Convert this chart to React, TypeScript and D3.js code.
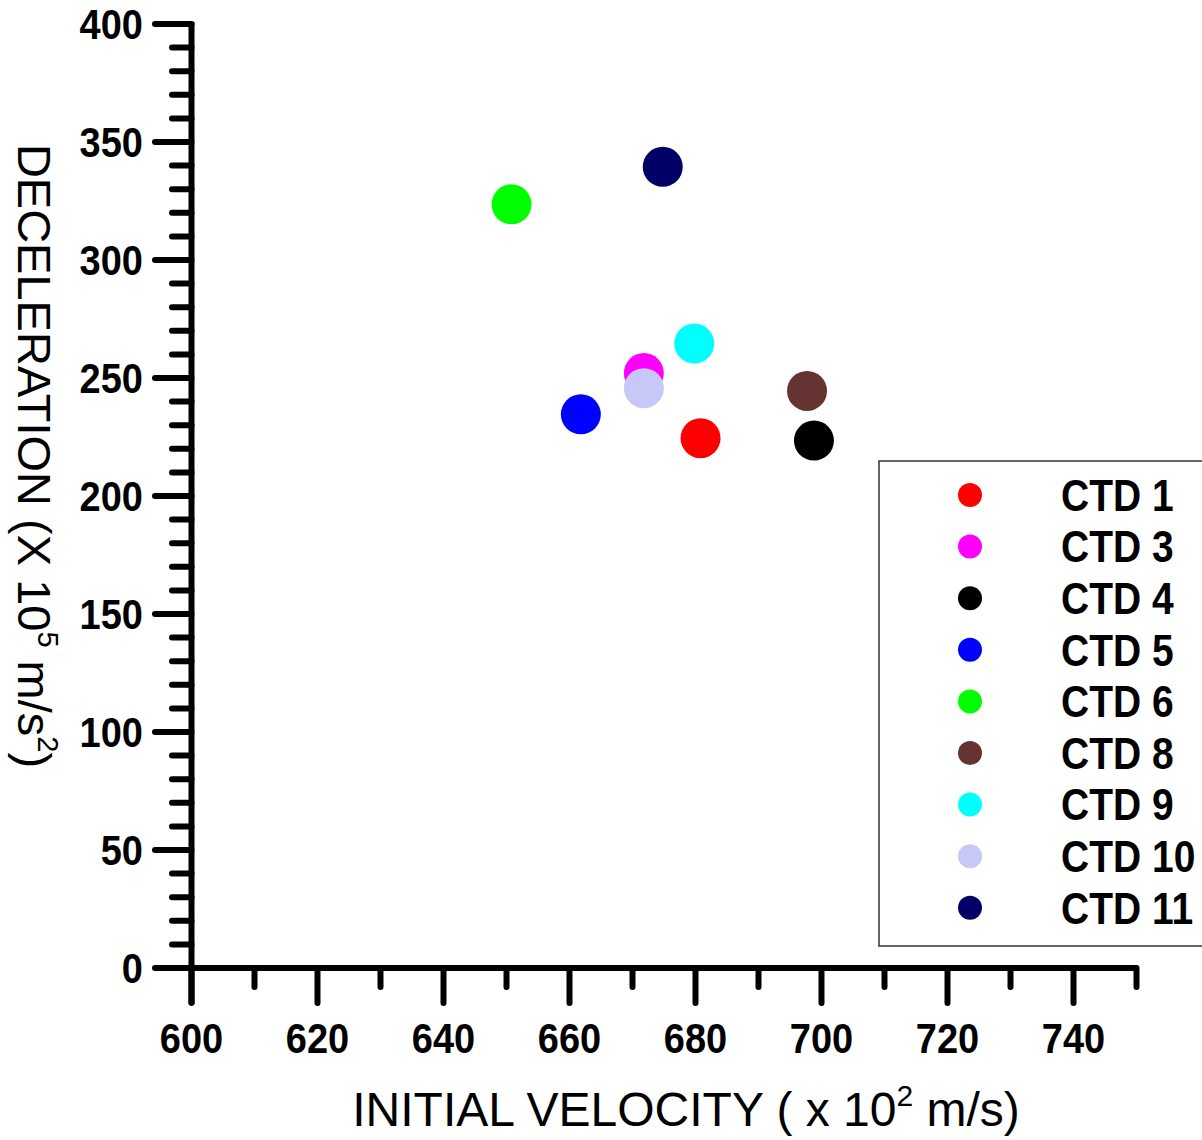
import React from "react";
import * as d3 from "d3";

const labels = ["CTD 1", "CTD 3", "CTD 4", "CTD 5", "CTD 6", "CTD 8", "CTD 9", "CTD 10", "CTD 11"];
const velocity = [680.8, 671.8, 698.8, 661.8, 650.8, 697.7, 679.8, 671.8, 674.8];
const deceleration = [224.5, 252.1, 223.5, 234.6, 323.6, 244.5, 264.6, 245.7, 339.5];
const colors = ["#ff0000", "#ff00ff", "#000000", "#0000ff", "#00ff00", "#663333", "#00ffff", "#c8c8f8", "#000066"];
const xMajorTicks = [600, 620, 640, 660, 680, 700, 720, 740];
const xMinorTicks = [610, 630, 650, 670, 690, 710, 730, 750];
const yMajorTicks = [0, 50, 100, 150, 200, 250, 300, 350, 400];

export default function App() {
  const W = 1202, H = 1140;
  const x = d3.scaleLinear().domain([600, 750]).range([191.5, 1136.5]);
  const y = d3.scaleLinear().domain([0, 400]).range([968, 24]);
  const yMinor = d3.range(0, 400, 10).filter((v) => v % 50 !== 0);
  const bold = { fontFamily: "'Liberation Sans', Arial, sans-serif", fontWeight: 700 } as const;
  const reg = { fontFamily: "'Liberation Sans', Arial, sans-serif" } as const;
  const legendX = 970, legendTextX = 1061, legendY0 = 495, legendStep = 51.6;

  return (
    <svg width={W} height={H} style={{ position: "absolute", left: 0, top: 0, background: "#fff" }}>
      <rect x={0} y={0} width={W} height={H} fill="#fff" />
      {/* axes lines */}
      <line x1={x(600)} x2={x(600)} y1={y(400) - 2} y2={1004} stroke="#000" strokeWidth={6} />
      <line x1={155} x2={x(750) + 1} y1={y(0)} y2={y(0)} stroke="#000" strokeWidth={6} />
      {/* y ticks */}
      {yMajorTicks.map((v) => (
        <g key={"ym" + v}>
          <line x1={155} x2={x(600)} y1={y(v)} y2={y(v)} stroke="#000" strokeWidth={6} strokeLinecap="round" />
          <text transform={`translate(143,${y(v)}) scale(1,1.1)`} dy="0.36em" textAnchor="end" fontSize={38} style={bold} fill="#000">
            {v}
          </text>
        </g>
      ))}
      {yMinor.map((v) => (
        <line key={"yn" + v} x1={172} x2={x(600)} y1={y(v)} y2={y(v)} stroke="#000" strokeWidth={6} strokeLinecap="round" />
      ))}
      {/* x ticks */}
      {xMajorTicks.map((v) => (
        <g key={"xm" + v}>
          <line x1={x(v)} x2={x(v)} y1={y(0)} y2={1003} stroke="#000" strokeWidth={6} strokeLinecap="round" />
          <text transform={`translate(${x(v)},1038) scale(1,1.1)`} dy="0.36em" textAnchor="middle" fontSize={38} style={bold} fill="#000">
            {v}
          </text>
        </g>
      ))}
      {xMinorTicks.map((v) => (
        <line key={"xn" + v} x1={x(v)} x2={x(v)} y1={y(0)} y2={987} stroke="#000" strokeWidth={6} strokeLinecap="round" />
      ))}
      {/* points */}
      {labels.map((l, i) => (
        <circle key={"p" + l} cx={x(velocity[i])} cy={y(deceleration[i])} r={20} fill={colors[i]} />
      ))}
      {/* legend */}
      <rect x={879} y={461} width={340} height={485} fill="#fff" stroke="#333" strokeWidth={1.5} />
      {labels.map((l, i) => (
        <g key={"lg" + l}>
          <circle cx={legendX} cy={legendY0 + i * legendStep} r={12} fill={colors[i]} />
          <text transform={`translate(${legendTextX},${legendY0 + i * legendStep}) scale(1,1.12)`} dy="0.36em" fontSize={39} style={bold} fill="#000">
            {l}
          </text>
        </g>
      ))}
      {/* x title */}
      <text x={686} y={1126} textAnchor="middle" fontSize={48} style={reg} fill="#000">
        INITIAL VELOCITY ( x 10<tspan dy={-20} fontSize={30}>2</tspan>
        <tspan dy={20}> m/s)</tspan>
      </text>
      {/* y title */}
      <text transform="translate(18,456) rotate(90)" textAnchor="middle" fontSize={47} style={reg} fill="#000">
        DECELERATION (X 10<tspan dy={-20} fontSize={29}>5</tspan>
        <tspan dy={20}> m/s</tspan>
        <tspan dy={-20} fontSize={29}>2</tspan>
        <tspan dy={20}>)</tspan>
      </text>
    </svg>
  );
}
